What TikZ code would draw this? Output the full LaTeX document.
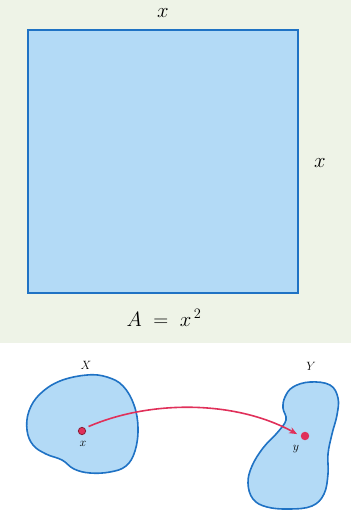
\documentclass[tikz,border=0pt]{standalone}
\usetikzlibrary{arrows.meta}

\definecolor{paper}{HTML}{EEF3E7}
\definecolor{sheet}{HTML}{B3DAF6}
\definecolor{rim}{HTML}{1F72C4}
\definecolor{mapred}{HTML}{E0305A}

\newcommand*{\wpic}{351}
\newcommand*{\hpic}{511}

\begin{document}
\begin{tikzpicture}[x=1pt,y=-1pt]

	\useasboundingbox (0,0) rectangle (\wpic,\hpic);
	\fill[paper] (0,0) rectangle (\wpic,343);

	% square
	\draw[rim,line width=2pt,fill=sheet] (28,30) rectangle (298,293);
	\node[font=\fontsize{20}{24}\selectfont,inner sep=0pt] (top) at (163,13) {$x$};
	\node[font=\fontsize{20}{24}\selectfont] (side) at (320,163) {$x$};
	\node[font=\fontsize{21}{25}\selectfont] (area) at (164,318) {$A \;=\; x^{\,2}$};

	% sets
	\draw[rim,line width=1.6pt,fill=sheet] plot[smooth cycle,tension=0.65] coordinates {
		(87,375) (107,377) (123,386) (134,405) (138,428) (135,451) (126,466)
		(110,472) (90,473) (74,469) (62,460) (46,454) (33,445) (27,430)
		(29,411) (40,394) (60,381)};
	\draw[rim,line width=1.6pt,fill=sheet] plot[smooth cycle,tension=0.65] coordinates {
		(285,397) (293,387) (310,382) (330,385) (338,398) (337,415) (332,434)
		(328,454) (328,474) (324,494) (312,506) (290,509) (267,507) (253,499)
		(248,483) (252,466) (263,448) (277,433) (286,420) (283,408)};

	\node[font=\fontsize{13}{15}\selectfont] (setX) at (86,365) {$X$};
	\node[font=\fontsize{13}{15}\selectfont] (setY) at (311,366) {$Y$};

	\node[circle,fill=mapred,draw=mapred!60!black,line width=0.8pt,inner sep=2.6pt] (px) at (82,431) {};
	\node[circle,fill=mapred,inner sep=3pt] (py) at (305,436) {};
	\node[font=\fontsize{12}{14}\selectfont] (lx) at (83,444) {$x$};
	\node[font=\fontsize{12}{14}\selectfont] (ly) at (296,449) {$y$};

	% map
	\draw[mapred,line width=1.6pt,-{Stealth[length=8pt,width=6.5pt]},shorten <=4pt,shorten >=4pt]
		(px.north east) .. controls (150,400) and (235,400) .. (py.west);

\end{tikzpicture}
\end{document}
